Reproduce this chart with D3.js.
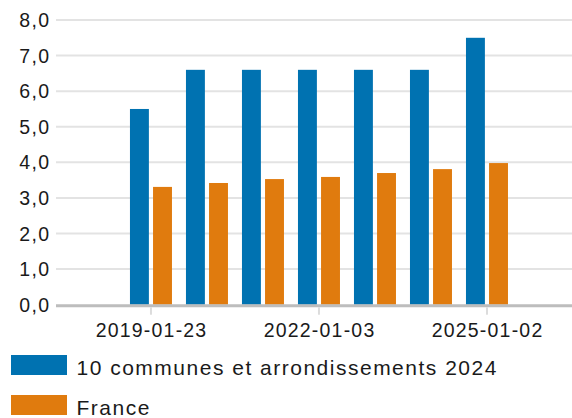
<!DOCTYPE html>
<html><head><meta charset="utf-8">
<script src="https://cdn.jsdelivr.net/npm/d3@7"></script>
<style>
html,body{margin:0;padding:0;background:#fff;}
svg{display:block;font-family:"Liberation Sans",Arial,Helvetica,sans-serif;}
</style></head>
<body>
<script>
const categories = ["2019-01-23","2020-01-01","2021-01-01","2022-01-03","2023-01-01","2024-01-01","2025-01-02"];
const shownLabels = ["2019-01-23","2022-01-03","2025-01-02"];
const seriesNames = ["10 communes et arrondissements 2024","France"];
const communes = [5.5, 6.6, 6.6, 6.6, 6.6, 6.6, 7.5];
const france = [3.31, 3.42, 3.53, 3.59, 3.70, 3.81, 3.98];
const yTicks = [0,1,2,3,4,5,6,7,8];
const colors = ["#0072b1","#e07b0e"];

const W = 572, H = 418;
const m = {top:20, right:0, bottom:113.3, left:56};
const svg = d3.select("body").append("svg").attr("width",W).attr("height",H);

const x = d3.scaleBand().domain(categories).range([m.left, W-m.right])
  .paddingInner(0.25).paddingOuter(1.232).align(0.536);
const xs = d3.scaleBand().domain(seriesNames).range([0, x.bandwidth()]).paddingInner(0.18);
const y = d3.scaleLinear().domain([0,8]).range([H-m.bottom, m.top]);
const fmt = v => d3.format(".1f")(v).replace(".", ",");

// grid
svg.append("g").selectAll("line").data(yTicks.filter(d=>d>0)).join("line")
  .attr("x1",m.left).attr("x2",W-m.right)
  .attr("y1",d=>y(d)).attr("y2",d=>y(d))
  .attr("stroke","#e3e3e3").attr("stroke-width",2);

// y labels
svg.append("g").selectAll("text").data(yTicks).join("text")
  .attr("x",m.left-7+1.3).attr("y",d=>y(d)).attr("dy","0.36em")
  .attr("text-anchor","end").attr("font-size",19.5).attr("letter-spacing",1.3).attr("fill","#1a1a1a")
  .text(fmt);

// bars
const data = categories.map((c,i)=>({c, vals:[communes[i], france[i]]}));
svg.append("g").selectAll("g").data(data).join("g")
  .attr("transform",d=>`translate(${x(d.c)},0)`)
  .selectAll("rect").data(d=>d.vals.map((v,j)=>({v, s:seriesNames[j], j}))).join("rect")
  .attr("x",d=>xs(d.s)).attr("width",xs.bandwidth())
  .attr("y",d=>y(d.v)).attr("height",d=>y(0)-y(d.v))
  .attr("fill",d=>colors[d.j]);

// baseline
svg.append("line").attr("x1",m.left).attr("x2",W-m.right)
  .attr("y1",y(0)+1).attr("y2",y(0)+1).attr("stroke","#bdbdbd").attr("stroke-width",3);

// x ticks & labels
const xg = svg.append("g");
xg.selectAll("line").data(shownLabels).join("line")
  .attr("x1",d=>x(d)+x.bandwidth()/2).attr("x2",d=>x(d)+x.bandwidth()/2)
  .attr("y1",y(0)+2.5).attr("y2",y(0)+10).attr("stroke","#dcdcdc").attr("stroke-width",2);
xg.selectAll("text").data(shownLabels).join("text")
  .attr("x",d=>x(d)+x.bandwidth()/2+0.6).attr("y",336.5)
  .attr("text-anchor","middle").attr("font-size",19.5).attr("letter-spacing",1.2).attr("fill","#1a1a1a")
  .text(d=>d);

// legend
const lg = svg.append("g").selectAll("g").data(seriesNames).join("g")
  .attr("transform",(d,i)=>`translate(11,${355+i*40})`);
lg.append("rect").attr("width",56).attr("height",20).attr("fill",(d,i)=>colors[i]);
lg.append("text").attr("x",65.5).attr("y",19.7).attr("font-size",21).attr("letter-spacing",1.5).attr("fill","#1a1a1a").text(d=>d);
</script>
</body></html>
